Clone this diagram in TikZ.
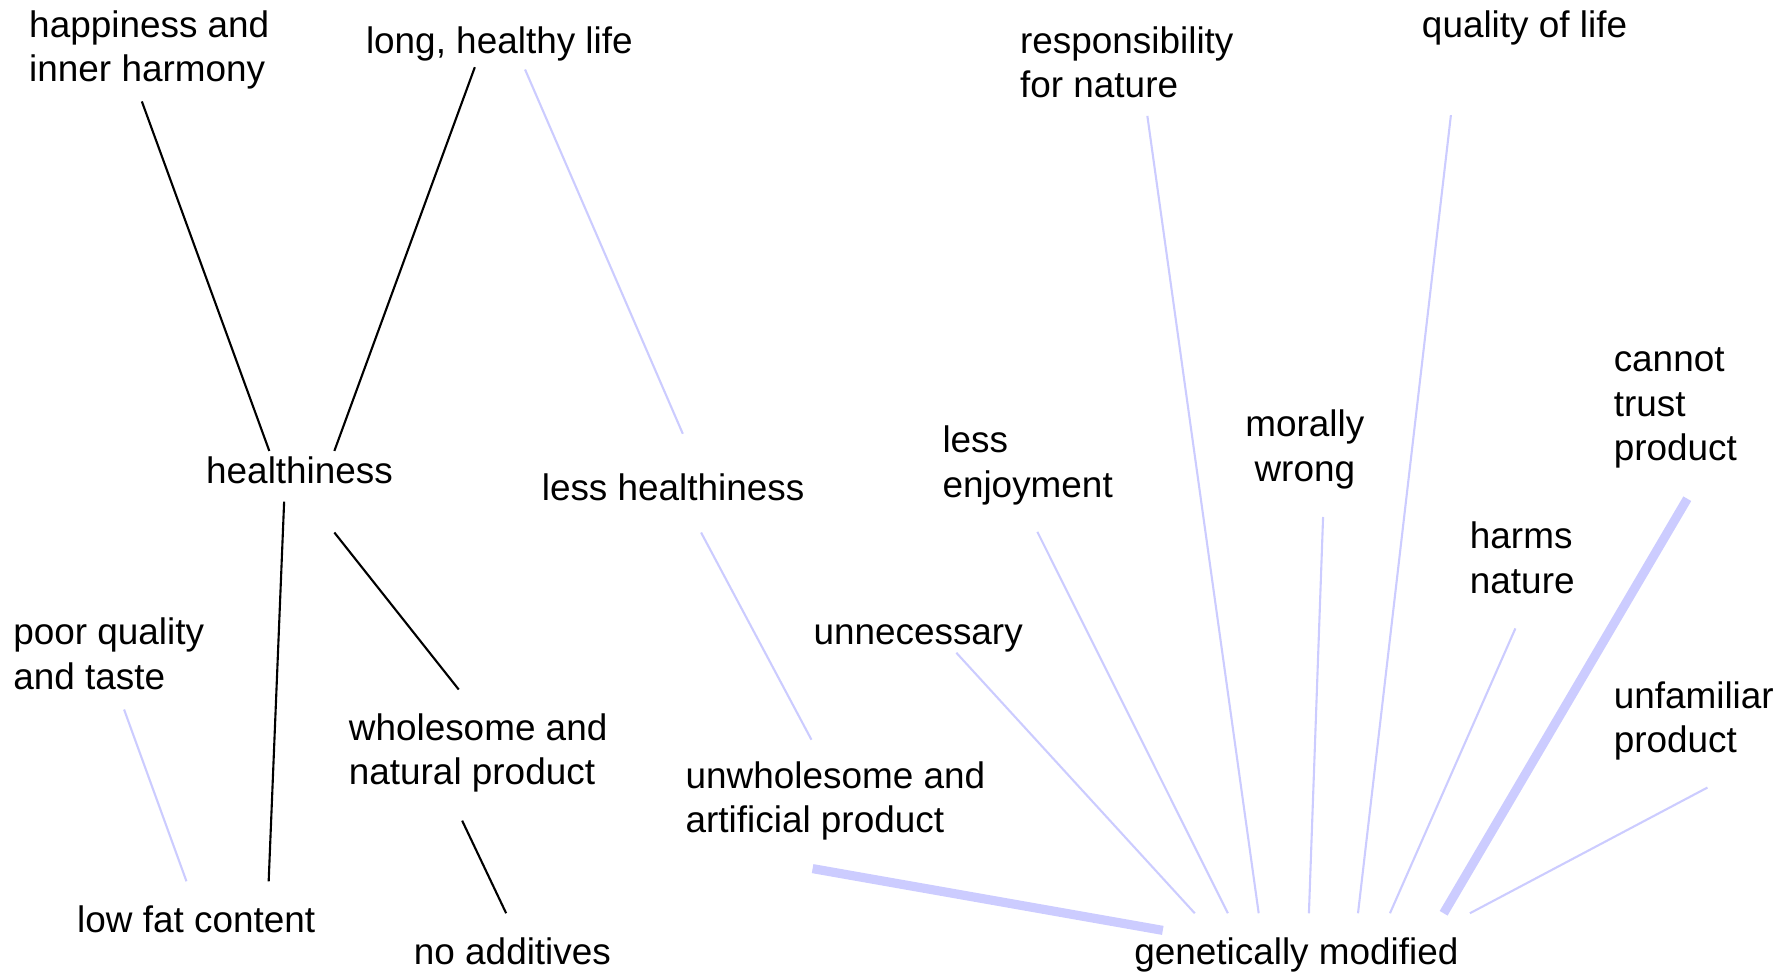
\documentclass[tikz,border=0pt]{standalone}
\usepackage{fontspec}
\setmainfont{Liberation Sans}
\definecolor{lav}{RGB}{204,204,255}

\begin{document}
\begin{tikzpicture}[x=0.114158mm, y=-0.114158mm,
  concept/.style={anchor=north west, inner sep=0pt, align=left, font=\fontsize{10.5}{12.67}\selectfont},
  link/.style={line width=0.6pt, black},
  weak/.style={line width=0.6pt, lav},
  strong/.style={line width=2.6pt, lav}]
\useasboundingbox (0,0) rectangle (1568,852);

% concepts
\node[concept] (hap) at (25,8.5) {happiness and\\inner harmony};
\node[concept] (lhl) at (320,22.5) {long, healthy life};
\node[concept] (resp) at (893,22.5) {responsibility\\for nature};
\node[concept] (qol) at (1245,8.5) {quality of life};
\node[concept] (hea) at (180,399.5) {healthiness};
\node[concept] (lhea) at (474,414.5) {less healthiness};
\node[concept] (lenj) at (825,372.5) {less\\enjoyment};
\node[concept, anchor=north, align=center] (mor) at (1143,358.5) {morally\\wrong};
\node[concept] (trust) at (1413,304) {cannot\\trust\\product};
\node[concept] (harm) at (1287,456.5) {harms\\nature};
\node[concept] (unn) at (712,546.5) {unnecessary};
\node[concept] (poor) at (11,540.5) {poor quality\\and taste};
\node[concept] (whole) at (305,624.5) {wholesome and\\natural product};
\node[concept] (unfam) at (1413,596.5) {unfamiliar\\product};
\node[concept] (unwh) at (600,666.5) {unwholesome and\\artificial product};
\node[concept] (lfat) at (67,792.5) {low fat content};
\node[concept] (noadd) at (362,820.5) {no additives};
\node[concept] (gm) at (993,820.5) {genetically modified};

% healthy chain
\draw[link] ([shift={(-6.5,10)}]hap.south) -- ([shift={(-26.5,-4.5)}]hea.north);
\draw[link] ([shift={(-21.5,5)}]lhl.south) -- ([shift={(30.5,-4.5)}]hea.north);
\draw[link] ([shift={(-13.5,15)}]hea.south) -- ([shift={(63.5,-20.5)}]lfat.north);
\draw[link] ([shift={(30.5,42)}]hea.south) -- ([shift={(-17,-20.5)}]whole.north);
\draw[link] ([shift={(-14,24)}]whole.south) -- ([shift={(-5.5,-20.5)}]noadd.north);

% gm chain
\draw[weak] ([shift={(22.5,7)}]lhl.south) -- ([shift={(8.5,-34.5)}]lhea.north);
\draw[weak] ([shift={(24.5,27)}]lhea.south) -- ([shift={(-21,-18.5)}]unwh.north);
\draw[weak] ([shift={(13.5,17)}]poor.south) -- ([shift={(-8.5,-20.5)}]lfat.north);
\draw[weak] ([shift={(18,15)}]resp.south) -- ([shift={(-33,-20.5)}]gm.north);
\draw[weak] ([shift={(-64.5,61)}]qol.south) -- ([shift={(54,-20.5)}]gm.north);
\draw[weak] ([shift={(8.5,23)}]lenj.south) -- ([shift={(-60,-20.5)}]gm.north);
\draw[weak] ([shift={(16,24)}]mor.south) -- ([shift={(11,-20.5)}]gm.north);
\draw[weak] ([shift={(-6,30)}]harm.south) -- ([shift={(82,-20.5)}]gm.north);
\draw[weak] ([shift={(33.5,0)}]unn.south) -- ([shift={(-89,-20.5)}]gm.north);
\draw[weak] ([shift={(12,23)}]unfam.south) -- ([shift={(152,-20.5)}]gm.north);
\draw[strong] ([shift={(-20,24)}]unwh.south) -- ([shift={(-117,-5.5)}]gm.north);
\draw[strong] ([shift={(10.5,26)}]trust.south) -- ([shift={(129,-20.5)}]gm.north);
\end{tikzpicture}
\end{document}
